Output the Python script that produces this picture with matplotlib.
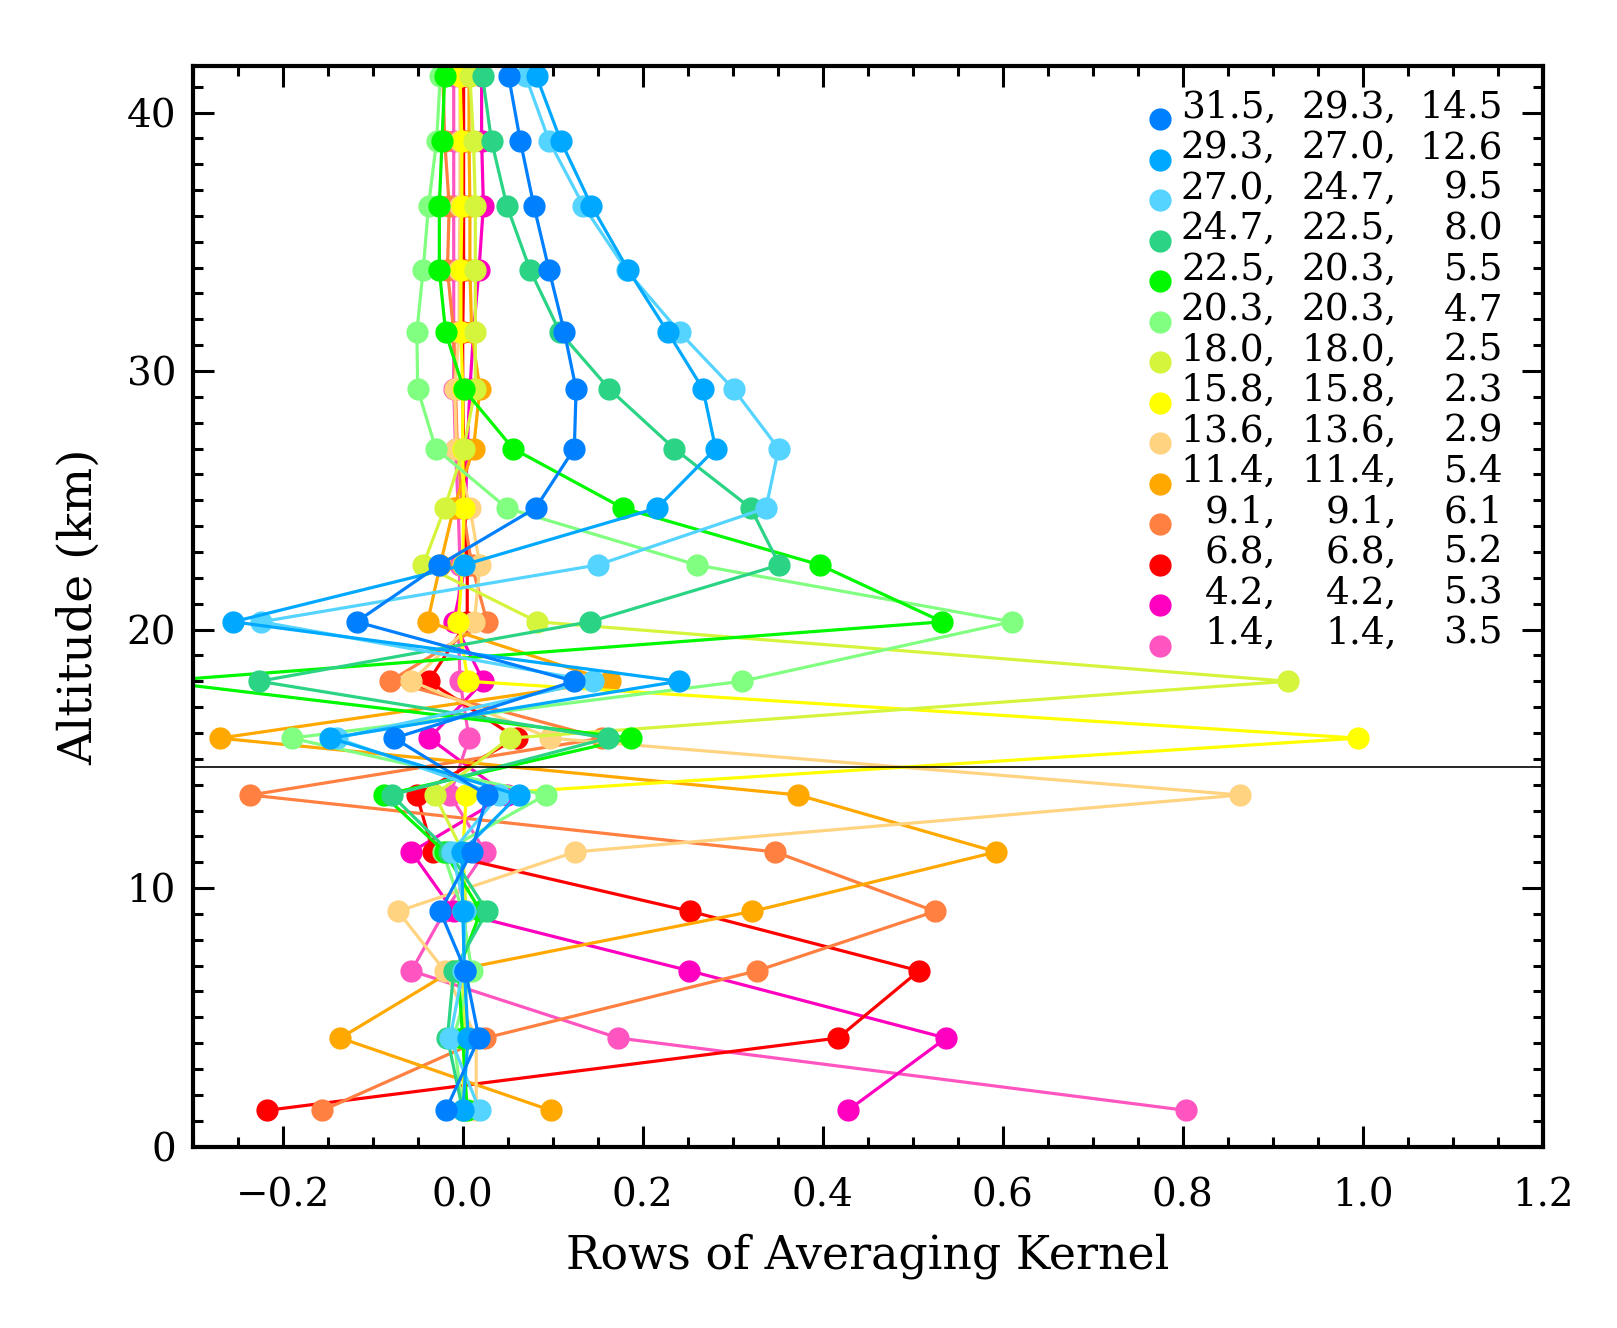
import numpy as np
import matplotlib.pyplot as plt
from matplotlib.ticker import MultipleLocator

plt.rcParams['font.family'] = ['DejaVu Serif']

# retrieval levels (km), bottom to top
altitudes = [1.4, 4.2, 6.8, 9.1, 11.4, 13.6, 15.8, 18.0, 20.3, 22.5, 24.7,
             27.0, 29.3, 31.5, 33.9, 36.4, 38.9, 41.4]

# rows of the averaging kernel, one list per nominal level
ak_315 = [-0.019, 0.018, 0.003, -0.025, 0.010, 0.027, -0.076, 0.124, -0.118, -0.026,
          0.081, 0.124, 0.126, 0.113, 0.096, 0.079, 0.064, 0.051]
ak_293 = [0.000, 0.006, 0.002, 0.000, -0.001, 0.062, -0.147, 0.240, -0.255, 0.001,
          0.216, 0.281, 0.267, 0.228, 0.184, 0.143, 0.109, 0.082]
ak_270 = [0.019, -0.014, 0.000, 0.003, -0.012, 0.040, -0.140, 0.145, -0.224, 0.150,
          0.337, 0.351, 0.301, 0.241, 0.182, 0.134, 0.096, 0.070]
ak_247 = [0.000, -0.017, -0.010, 0.027, -0.015, -0.079, 0.161, -0.226, 0.141, 0.352,
          0.320, 0.235, 0.163, 0.108, 0.075, 0.049, 0.032, 0.022]
ak_225 = [0.005, 0.000, -0.005, 0.020, -0.020, -0.088, 0.187, -0.340, 0.533, 0.397,
          0.178, 0.056, 0.001, -0.019, -0.026, -0.026, -0.023, -0.020]
ak_203 = [0.000, -0.010, 0.010, 0.000, -0.022, 0.092, -0.190, 0.310, 0.610, 0.260,
          0.049, -0.030, -0.050, -0.051, -0.044, -0.038, -0.029, -0.025]
ak_180 = [0.000, 0.003, 0.000, 0.004, 0.000, -0.031, 0.052, 0.917, 0.083, -0.044,
          -0.020, 0.001, 0.014, 0.014, 0.014, 0.014, 0.012, 0.008]
ak_158 = [0.000, 0.002, 0.000, 0.003, 0.000, 0.004, 0.995, 0.006, -0.005, 0.000,
          0.001, 0.000, 0.000, -0.002, -0.002, -0.001, -0.001, -0.003]
ak_136 = [0.015, 0.015, -0.020, -0.072, 0.125, 0.864, 0.097, -0.057, 0.013, 0.019,
          0.008, -0.007, -0.009, -0.004, -0.004, -0.003, -0.003, -0.003]
ak_114 = [0.098, -0.136, -0.012, 0.322, 0.593, 0.373, -0.270, 0.164, -0.039, -0.025,
          -0.010, 0.012, 0.019, 0.010, 0.008, 0.008, 0.007, 0.007]
ak_091 = [-0.156, 0.025, 0.327, 0.525, 0.347, -0.236, 0.155, -0.081, 0.027, 0.010,
          0.000, -0.006, -0.008, -0.010, -0.017, -0.015, -0.020, -0.022]
ak_068 = [-0.218, 0.417, 0.507, 0.253, -0.033, -0.051, 0.060, -0.038, 0.005, 0.005,
          0.002, 0.001, 0.000, 0.000, 0.001, 0.001, 0.001, 0.001]
ak_042 = [0.428, 0.537, 0.252, -0.010, -0.057, 0.049, -0.037, 0.023, -0.010, 0.003,
          0.003, 0.005, 0.008, 0.012, 0.018, 0.023, 0.021, 0.021]
ak_014 = [0.804, 0.173, -0.057, -0.020, 0.025, -0.014, 0.007, -0.003, -0.005, -0.003,
          -0.005, -0.008, -0.010, -0.010, -0.010, -0.010, -0.010, -0.010]

kernel_rows = [ak_315, ak_293, ak_270, ak_247, ak_225, ak_203, ak_180,
               ak_158, ak_136, ak_114, ak_091, ak_068, ak_042, ak_014]

# legend columns
nominal_alt = ['31.5', '29.3', '27.0', '24.7', '22.5', '20.3', '18.0',
               '15.8', '13.6', '11.4', '9.1', '6.8', '4.2', '1.4']
peak_alt = ['29.3', '27.0', '24.7', '22.5', '20.3', '20.3', '18.0',
            '15.8', '13.6', '11.4', '9.1', '6.8', '4.2', '1.4']
resolution = ['14.5', '12.6', '9.5', '8.0', '5.5', '4.7', '2.5',
              '2.3', '2.9', '5.4', '6.1', '5.2', '5.3', '3.5']

colors = ['#0080FF', '#00A8FF', '#55D4FF', '#2AD484', '#00F800', '#80FF80', '#D4F53C',
          '#FFFF00', '#FFD380', '#FFA800', '#FF8040', '#FF0000', '#FF00C0', '#FF55C0']

tropopause = 14.7


def plot_kernels():
    fig = plt.figure(figsize=(16.17, 13.28), dpi=100)
    ax = fig.add_axes([0.1192, 0.1366, 0.8348, 0.8137])

    # bottom row of the legend is drawn first, top row ends up on top
    for row, col in reversed(list(zip(kernel_rows, colors))):
        ax.plot(row, altitudes, '-o', color=col, lw=2.3, ms=15, mec=col)

    ax.axhline(tropopause, color='black', lw=1.2)

    ax.set_xlim(-0.3, 1.2)
    ax.set_ylim(0, 41.8)
    ax.xaxis.set_minor_locator(MultipleLocator(0.05))
    ax.yaxis.set_major_locator(MultipleLocator(10))
    ax.yaxis.set_minor_locator(MultipleLocator(1))
    ax.set_xticks(np.arange(-0.2, 1.21, 0.2))
    ax.set_xticklabels(['\u22120.2', '0.0', '0.2', '0.4', '0.6', '0.8', '1.0', '1.2'])
    ax.tick_params(which='both', direction='in', top=True, right=True, width=2.2)
    ax.tick_params(which='major', length=15)
    ax.tick_params(which='minor', length=7)
    ax.tick_params(axis='x', which='major', labelsize=28, pad=22)
    ax.tick_params(axis='y', which='major', labelsize=28, pad=12)
    for s in ax.spines.values():
        s.set_linewidth(3)

    ax.set_xlabel('Rows of Averaging Kernel', fontsize=33, labelpad=14)
    ax.set_ylabel('Altitude (km)', fontsize=34, labelpad=18)

    # legend: marker plus three right-aligned columns
    y0 = 39.74
    dy = 1.566
    for i in range(len(colors)):
        y = y0 - i * dy
        ax.plot(0.775, y, 'o', color=colors[i], ms=15, clip_on=False)
        ax.text(0.904, y + 0.45, nominal_alt[i] + ',', ha='right', va='center', fontsize=27)
        ax.text(1.038, y + 0.45, peak_alt[i] + ',', ha='right', va='center', fontsize=27)
        ax.text(1.156, y + 0.45, resolution[i], ha='right', va='center', fontsize=27)

    fig.savefig('out.png', dpi=100)


def main():
    plot_kernels()


if __name__ == "__main__":
    main()
